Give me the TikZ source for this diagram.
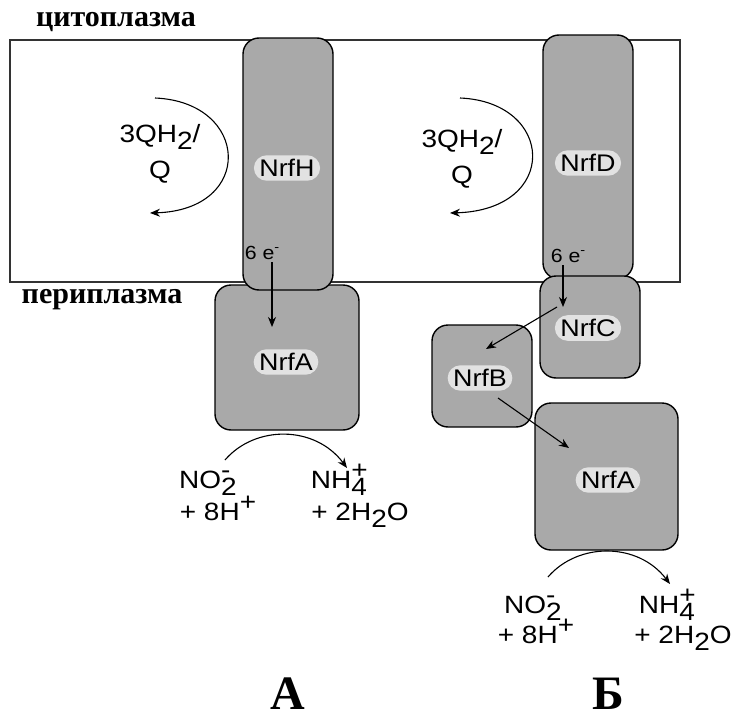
\documentclass[tikz,border=0pt]{standalone}
\usepackage{fontspec}
\setmainfont{Liberation Serif}
\newfontfamily\labfont[FakeStretch=1.12]{Liberation Sans}
\usetikzlibrary{arrows.meta,shapes.misc}
\definecolor{protgray}{HTML}{A9A9A9}
\definecolor{pillgray}{HTML}{E2E2E2}
\newcommand{\lsub}[1]{\smash{\raisebox{-0.28em}{#1}}}
\newcommand{\lsup}[1]{\smash{\raisebox{0.42em}{#1}}}
\tikzset{
  prot/.style={draw=black,line width=1.4pt,fill=protgray,rounded corners=16pt,inner sep=0pt},
  pill/.style={rounded rectangle,fill=pillgray,inner xsep=2pt,inner ysep=4pt,font=\labfont\fontsize{24}{24}\selectfont},
  chem/.style={font=\labfont\fontsize{25}{36}\selectfont,inner sep=0pt,align=center},
  elec/.style={font=\labfont\fontsize{19}{19}\selectfont,inner sep=0pt},
  zone/.style={font=\bfseries\fontsize{30}{30}\selectfont,inner sep=0pt},
  panel/.style={font=\bfseries\fontsize{48}{48}\selectfont,inner sep=0pt},
  arr/.style={line width=1.1pt,-{Stealth[length=10pt,width=8pt]}}
}
\begin{document}
\begin{tikzpicture}[x=1pt,y=-1pt]
\useasboundingbox (0,0) rectangle (737,720);
% membrane
\draw[line width=1.2pt,draw=black!80] (10,40) rectangle (680,282);
\node[zone] (cyto) at (116,22) {цитоплазма};
\node[zone] (peri) at (102,300) {периплазма};
% panel A proteins
\node[prot,minimum width=144pt,minimum height=145pt] (aA) at (287,357.5) {};
\node[prot,minimum width=90pt,minimum height=252pt] (aH) at (288,164) {};
\node[pill] (laH) at (287,168) {NrfH};
\node[pill] (laA) at (286,362) {NrfA};
% panel B proteins
\node[prot,minimum width=90pt,minimum height=244pt] (bD) at (588,157) {};
\node[prot,minimum width=100pt,minimum height=102pt] (bC) at (590,327) {};
\node[prot,minimum width=100pt,minimum height=102pt] (bB) at (482,376) {};
\node[prot,minimum width=143pt,minimum height=147pt] (bA) at (606.5,476.5) {};
\node[pill] (lbD) at (588,163) {NrfD};
\node[pill] (lbC) at (588,328) {NrfC};
\node[pill] (lbB) at (480,378) {NrfB};
\node[pill] (lbA) at (608,480) {NrfA};
% quinone cycles
\node[chem] (qa) at (160,154) {3QH\lsub{2}/\\Q};
\node[chem] (qb) at (462,159) {3QH\lsub{2}/\\Q};
\coordinate (qa1) at (155,98);
\coordinate (qa2) at (150,213);
\coordinate (qb1) at (460,98);
\coordinate (qb2) at (450,213);
\draw[arr] (qa1) .. controls (250,102) and (255,210) .. (qa2);
\draw[arr] (qb1) .. controls (555,102) and (560,210) .. (qb2);
% electrons
\node[elec] (ea) at (262,253) {6 e\lsup{\fontsize{13}{13}\selectfont -}};
\node[elec] (eb) at (568,256) {6 e\lsup{\fontsize{13}{13}\selectfont -}};
\coordinate (ea1) at (272,262);
\coordinate (ea2) at (272,327);
\draw[arr] (ea1) -- (ea2);
\coordinate (eb1) at (563,265);
\coordinate (eb2) at (563,307);
\draw[arr] (eb1) -- (eb2);
\coordinate (cb1) at (557,307);
\coordinate (cb2) at (486,349);
\draw[arr] (cb1) -- (cb2);
\coordinate (ba1) at (498,398);
\coordinate (ba2) at (569,448);
\draw[arr] (ba1) -- (ba2);
% reactions A
\node[chem] (na1) at (208,480) {NO\rlap{\lsup{-}}\lsub{2}};
\node[chem] (na2) at (218,512) {+ 8H\lsup{+}};
\node[chem] (na3) at (339,480) {NH\rlap{\lsup{+}}\lsub{4}};
\node[chem] (na4) at (360,512) {+ 2H\lsub{2}O};
\coordinate (ra1) at (225,460);
\coordinate (ra2) at (347,468);
\draw[arr] (ra1) .. controls (255,425) and (315,425) .. (ra2);
% reactions B
\node[chem] (nb1) at (533,605) {NO\rlap{\lsup{-}}\lsub{2}};
\node[chem] (nb2) at (536,635) {+ 8H\lsup{+}};
\node[chem] (nb3) at (667,605) {NH\rlap{\lsup{+}}\lsub{4}};
\node[chem] (nb4) at (683,635) {+ 2H\lsub{2}O};
\coordinate (rb1) at (548,577);
\coordinate (rb2) at (670,584);
\draw[arr] (rb1) .. controls (578,542) and (638,542) .. (rb2);
% panel letters
\node[panel] (pA) at (288,694) {А};
\node[panel] (pB) at (608,694) {Б};
\end{tikzpicture}
\end{document}
